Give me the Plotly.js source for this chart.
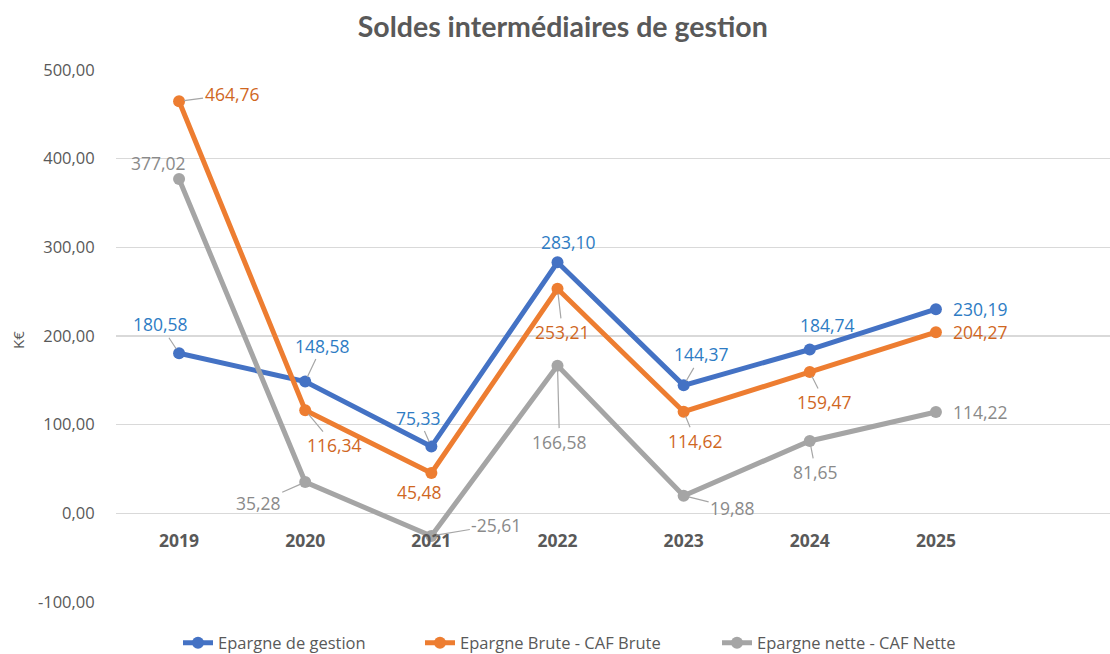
<!DOCTYPE html>
<html>
<head>
<meta charset="utf-8">
<script src="https://cdn.plot.ly/plotly-3.0.1.min.js"></script>
<style>html,body{margin:0;padding:0;background:#fff}#chart{width:1110px;height:654px}</style>
</head>
<body>
<div id="chart"></div>
<script>
// ---- Data ----
const years = ['2019', '2020', '2021', '2022', '2023', '2024', '2025'];
const seriesNames = ['Epargne de gestion', 'Epargne Brute - CAF Brute', 'Epargne nette - CAF Nette'];
const epargneGestion = [180.58, 148.58, 75.33, 283.10, 144.37, 184.74, 230.19];
const epargneBrute = [464.76, 116.34, 45.48, 253.21, 114.62, 159.47, 204.27];
const epargneNette = [377.02, 35.28, -25.61, 166.58, 19.88, 81.65, 114.22];
const yTickValues = [-100, 0, 100, 200, 300, 400, 500];

// ---- Styling ----
const lineColors = ['#4472C4', '#ED7D31', '#A5A5A5'];
const labelColors = ['#2E7CC4', '#D0671F', '#8A8A8A'];
// label offsets in pixels [ax, ay, leader]
const labelOffsets = [
  [[-19,-29,1],[17,-36,1],[-13,-29,1],[11,-20,0],[18,-31,1],[18,-25,0],[45,0,0]],
  [[53,-7,1],[29,35,1],[-12,19,0],[5,43,1],[12,29,1],[15,30,1],[45,0,0]],
  [[-21,-16,0],[-47,21,1],[65,-11,1],[2,76,1],[49,12,1],[6,31,1],[45,0,0]]
];
const legendX = [178, 420, 717];
const allSeries = [epargneGestion, epargneBrute, epargneNette];
const fmt = v => v.toFixed(2).replace('.', ',');
const legendIds = ['legend', 'legend2', 'legend3'];

const traces = allSeries.map((vals, s) => ({
  type: 'scatter', mode: 'lines+markers', name: seriesNames[s],
  x: years, y: vals, legend: legendIds[s],
  line: {color: lineColors[s], width: 5},
  marker: {color: lineColors[s], size: 12},
  hoverinfo: 'skip'
}));

const annotations = [];
allSeries.forEach((vals, s) => {
  vals.forEach((v, i) => {
    const o = labelOffsets[s][i];
    annotations.push({
      x: i, y: v, xref: 'x', yref: 'y',
      text: fmt(v), showarrow: true,
      ax: o[0], ay: o[1],
      arrowhead: 0, arrowwidth: 1.2, arrowcolor: o[2] ? '#A6A6A6' : 'rgba(0,0,0,0)',
      standoff: 5,
      font: {family: 'Open Sans, sans-serif', size: 17.5, color: labelColors[s]}
    });
  });
});
annotations.push({
  text: 'K€', xref: 'paper', yref: 'paper', x: (18 - 116) / 994, y: (602 - 340) / 532,
  showarrow: false, textangle: -90, xanchor: 'center', yanchor: 'middle',
  font: {family: 'Open Sans, sans-serif', size: 15, color: '#595959'}
});

const legendBase = {
  orientation: 'h', xref: 'container', yref: 'container',
  y: 1 - 643 / 654, xanchor: 'left', yanchor: 'middle',
  font: {family: 'Open Sans, sans-serif', size: 16.5, color: '#595959'},
  bgcolor: 'rgba(0,0,0,0)'
};

const layout = {
  width: 1110, height: 654,
  margin: {l: 116, r: 0, t: 70, b: 52},
  paper_bgcolor: '#fff', plot_bgcolor: '#fff',
  title: {
    text: 'Soldes intermédiaires de gestion',
    xref: 'container', yref: 'container', x: 0.507, y: 1 - 27 / 654,
    xanchor: 'center', yanchor: 'middle',
    font: {family: 'Lato, sans-serif', size: 28.5, color: '#595959', weight: 'bold'}
  },
  xaxis: {
    type: 'category', range: [-0.5, 7.38],
    anchor: 'free', position: (602 - 513) / 532,
    showgrid: false, zeroline: false, showline: false,
    ticks: 'outside', ticklen: 12, tickcolor: 'rgba(0,0,0,0)',
    tickfont: {family: 'Open Sans, sans-serif', size: 17.5, color: '#595959', weight: 'bold'}
  },
  yaxis: {
    range: [-100, 500], tickmode: 'array',
    tickvals: yTickValues, ticktext: yTickValues.map(fmt),
    showgrid: true, gridcolor: '#D9D9D9', gridwidth: 1.3,
    zeroline: false, showline: false,
    ticks: 'outside', ticklen: 17, tickcolor: 'rgba(0,0,0,0)',
    tickfont: {family: 'Open Sans, sans-serif', size: 16.5, color: '#595959'}
  },
  showlegend: true,
  legend: Object.assign({}, legendBase, {x: legendX[0] / 1110}),
  legend2: Object.assign({}, legendBase, {x: legendX[1] / 1110}),
  legend3: Object.assign({}, legendBase, {x: legendX[2] / 1110}),
  annotations: annotations
};

Plotly.newPlot('chart', traces, layout, {staticPlot: true});
</script>
</body>
</html>
